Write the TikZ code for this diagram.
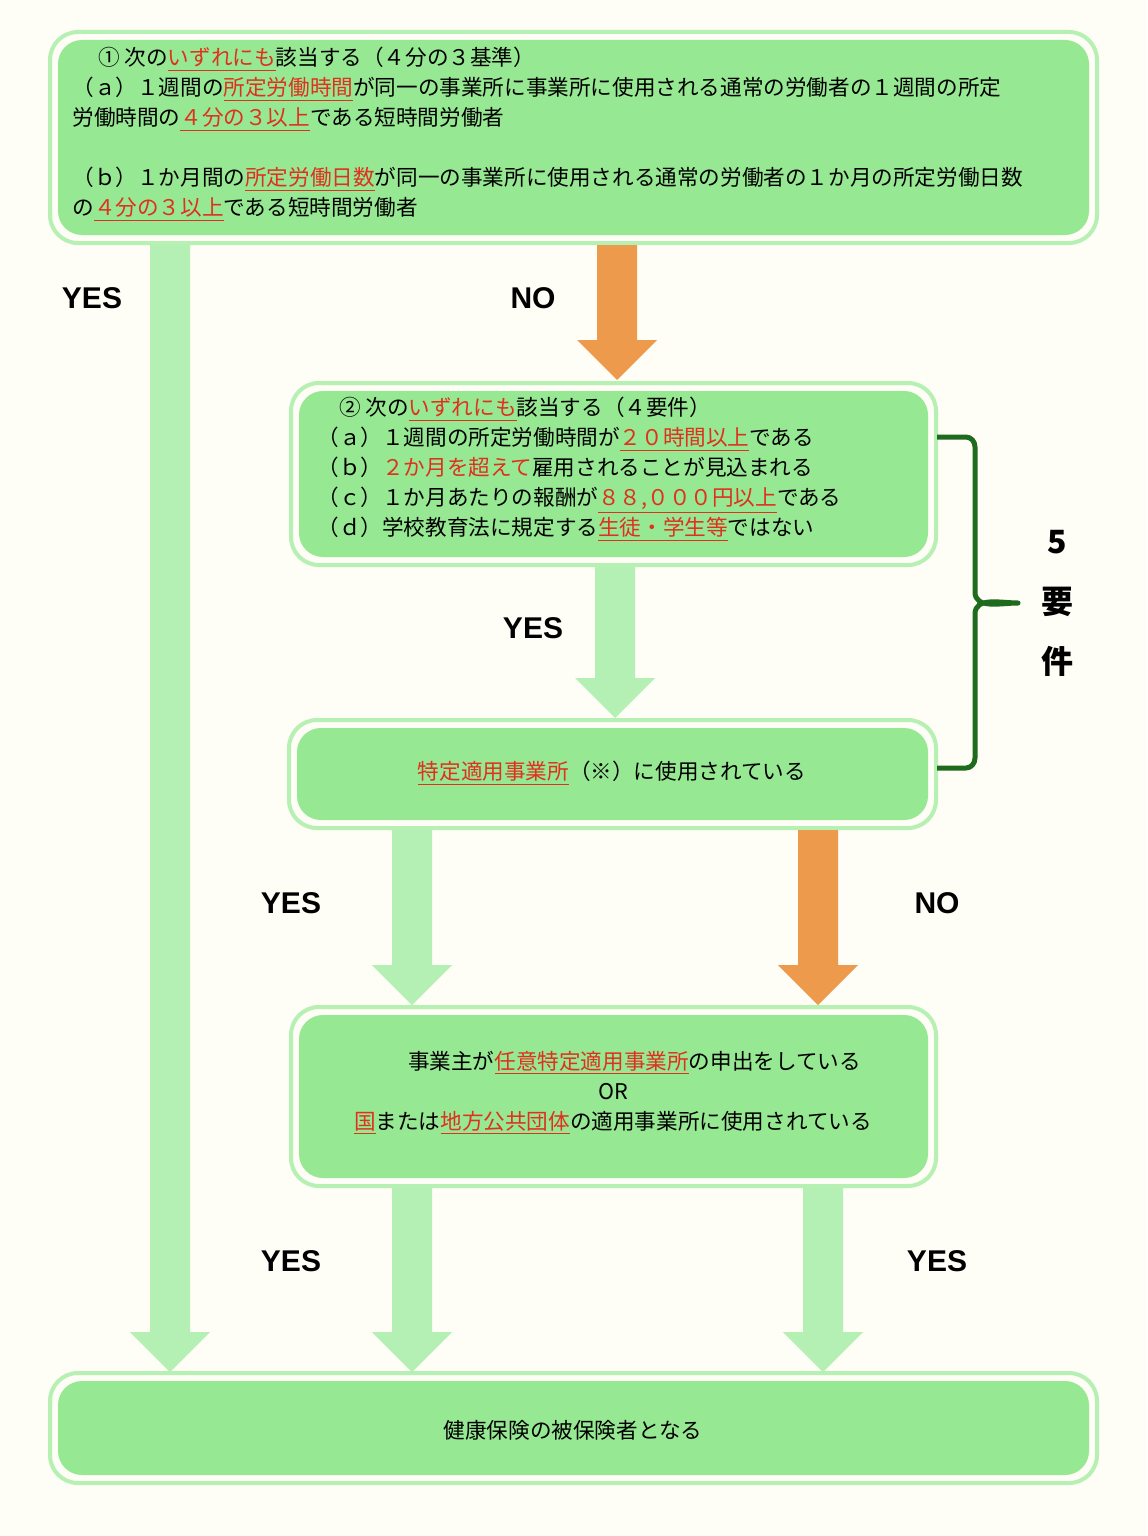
\documentclass[tikz,border=0pt]{standalone}
\usepackage{fontspec}
\setmainfont{Noto Sans CJK JP}
\newfontfamily\lab{Liberation Sans}
\definecolor{bg}{HTML}{FEFDF6}
\definecolor{fillg}{HTML}{96E892}
\definecolor{edgeg}{HTML}{B6F0B2}
\definecolor{arrg}{HTML}{B4F0B4}
\definecolor{orng}{HTML}{EE9A4D}
\definecolor{redt}{HTML}{E0301E}
\definecolor{brc}{HTML}{1E6B1E}
\newcommand\rul[1]{\textcolor{redt}{\underline{#1}}}
\begin{document}
\begin{tikzpicture}[x=0.5pt,y=-0.5pt,
  box/.style={draw=edgeg,line width=2pt,fill=bg,rounded corners=14pt},
  inner/.style={fill=fillg,rounded corners=12pt},
  txt/.style={font=\fontsize{10.8}{15}\selectfont,inner sep=0pt},
  yes/.style={font=\lab\bfseries\fontsize{15}{15}\selectfont},
  barr/.style={fill=arrg},
  oarr/.style={fill=orng}]
\fill[bg] (0,0) rectangle (1147,1536);
\useasboundingbox (0,0) rectangle (1147,1536);
% boxes
\foreach \a/\b/\c/\d [count=\i] in {50/32/1097/243, 291/383/936/565, 289/720/936/828, 291/1007/936/1186, 50/1373/1097/1483}{
  \draw[box] (\a,\b) rectangle (\c,\d);
  \fill[inner] (\a+8,\b+8) rectangle (\c-8,\d-8);
}
\coordinate (b1) at (573,137);
% arrows
\newcommand\arr[6]{\fill[#6] (#1-20,#2) -- (#1+20,#2) -- (#1+20,#3) -- (#1+40,#3) -- (#1,#4) -- (#1-40,#3) -- (#1-20,#3) -- cycle;}
\arr{170}{245}{1332}{1372}{0}{barr}
\arr{617}{245}{340}{380}{0}{oarr}
\arr{615}{567}{678}{718}{0}{barr}
\arr{412}{830}{965}{1005}{0}{barr}
\arr{818}{830}{965}{1005}{0}{oarr}
\arr{412}{1188}{1332}{1372}{0}{barr}
\arr{823}{1188}{1332}{1372}{0}{barr}
% labels
\node[yes] (y1) at (92,298) {YES};
\node[yes] (n1) at (533,298) {NO};
\node[yes] (y2) at (533,628) {YES};
\node[yes] (y3) at (291,903) {YES};
\node[yes] (n2) at (937,903) {NO};
\node[yes] (y4) at (291,1261) {YES};
\node[yes] (y5) at (937,1261) {YES};
% brace
\draw[brc,line width=2.5pt,line join=round] (937,437) -- (966,437) to[out=0,in=90] (975,447) -- (975,592) to[out=-90,in=180] (1018,603) to[out=180,in=90] (975,614) -- (975,758) to[out=-90,in=0] (966,768) -- (937,768);
\node[font=\bfseries\fontsize{16}{30}\selectfont,align=center] (five) at (1057,603) {5\\要\\件};
% texts
\node[txt,anchor=north west,align=left] (t1) at (72,47) {%
\hspace{1.2em}① 次の\rul{いずれにも}該当する（４分の３基準）\\
（ａ）１週間の\rul{所定労働時間}が同一の事業所に事業所に使用される通常の労働者の１週間の所定\\
労働時間の\rul{４分の３以上}である短時間労働者\\[15pt]
（ｂ）１か月間の\rul{所定労働日数}が同一の事業所に使用される通常の労働者の１か月の所定労働日数\\
の\rul{４分の３以上}である短時間労働者};
\node[txt,anchor=north west,align=left] (t2) at (317,397) {%
\hspace{1em}② 次の\rul{いずれにも}該当する（４要件）\\
（ａ）１週間の所定労働時間が\rul{２０時間以上}である\\
（ｂ）\textcolor{redt}{２か月を超えて}雇用されることが見込まれる\\
（ｃ）１か月あたりの報酬が\rul{８８,０００円以上}である\\
（ｄ）学校教育法に規定する\rul{生徒・学生等}ではない};
\node[txt] (t3) at (612,773) {\rul{特定適用事業所}（※）に使用されている};
\node[txt,align=center] (t4) at (613,1093) {%
\hspace{2em}事業主が\rul{任意特定適用事業所}の申出をしている\\
OR\\
\rul{国}または\rul{地方公共団体}の適用事業所に使用されている};
\node[txt] (t5) at (573,1430) {健康保険の被保険者となる};
\end{tikzpicture}
\end{document}
